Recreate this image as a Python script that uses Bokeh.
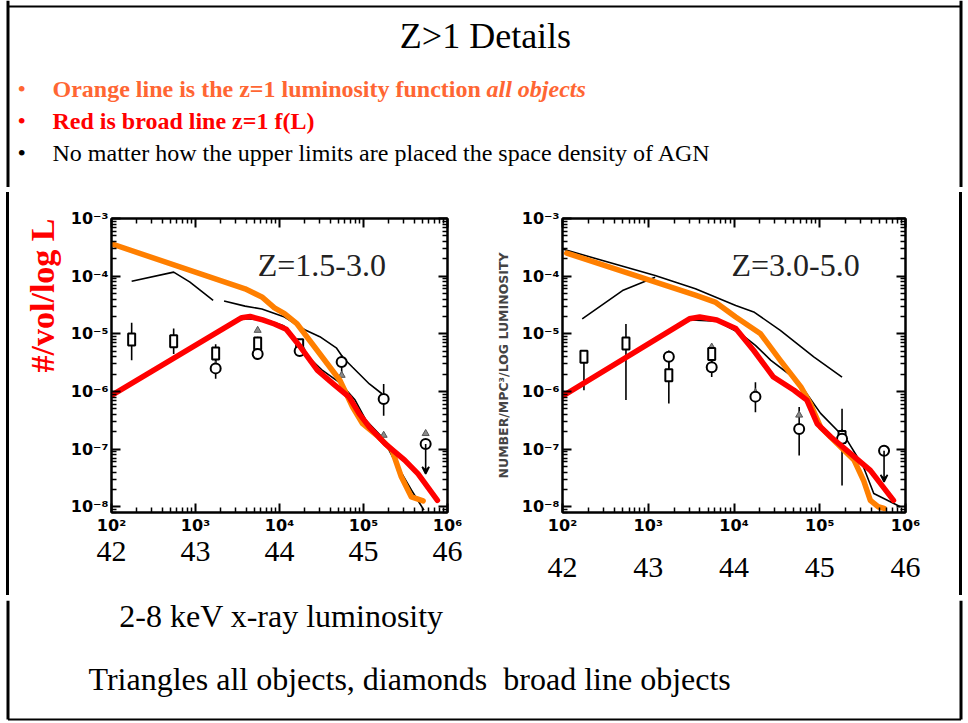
from bokeh.plotting import figure
from bokeh.layouts import column, row
from bokeh.models import (Range1d, FixedTicker, LogAxis, CustomJSTickFormatter,
                          Label, Title, ColumnDataSource, Arrow, VeeHead, Spacer, Div)
from bokeh.core.properties import value
from bokeh.embed import file_html
from bokeh.resources import INLINE

SERIF = "Liberation Serif"
TICKFONT = "DejaVu Sans"

# ---------------------------------------------------------------------------
# Data: log10 L (units of 1e40 erg/s) and log10 space density per Mpc^3 per log L
# ---------------------------------------------------------------------------
# Z = 1.5-3.0 panel
lo_orange_logL = [2.00, 3.59, 3.79, 3.94, 4.06, 4.21, 4.45, 4.72, 4.87, 4.99, 5.18, 5.34, 5.45, 5.57, 5.71]
lo_orange_logphi = [-3.44, -4.22, -4.36, -4.55, -4.65, -4.83, -5.29, -5.81, -6.27, -6.56, -6.79, -7.02, -7.48, -7.83, -7.90]
lo_red_logL = [2.00, 3.55, 3.65, 3.80, 3.94, 4.08, 4.25, 4.45, 4.64, 4.83, 4.95, 5.07, 5.26, 5.49, 5.65, 5.88]
lo_red_logphi = [-6.07, -4.72, -4.70, -4.76, -4.83, -4.92, -5.23, -5.63, -5.87, -6.10, -6.39, -6.62, -6.91, -7.19, -7.43, -7.89]
lo_all1_logL = [2.24, 2.74, 2.93, 3.21]
lo_all1_logphi = [-4.09, -3.93, -4.10, -4.42]
lo_all2_logL = [3.34, 3.59, 3.79, 4.06, 4.30, 4.48, 4.68, 4.76, 4.87, 5.07, 5.22]
lo_all2_logphi = [-4.43, -4.52, -4.57, -4.71, -4.93, -5.05, -5.25, -5.42, -5.58, -5.87, -6.04]
lo_broad_logL = [3.45, 3.60, 3.85, 4.05, 4.20, 4.33, 4.50, 4.72, 4.90, 5.03, 5.22, 5.41, 5.57, 5.72]
lo_broad_logphi = [-4.78, -4.74, -4.76, -4.86, -5.10, -5.38, -5.62, -5.85, -6.15, -6.50, -6.79, -7.31, -7.71, -8.06]

lo_sq_logL = [2.24, 2.74, 3.24, 3.74, 4.24]
lo_sq_logphi = [-5.10, -5.13, -5.34, -5.17, -5.20]
lo_sq_lo = [-5.46, -5.35, -5.50, -5.30, -5.30]
lo_sq_hi = [-4.81, -4.91, -5.18, -5.05, -5.12]
lo_dm_logL = [3.24, 3.74, 4.24, 4.74, 5.24]
lo_dm_logphi = [-5.60, -5.35, -5.30, -5.49, -6.13]
lo_dm_lo = [-5.78, -5.45, -5.37, -5.75, -6.42]
lo_dm_hi = [-5.45, -5.20, -5.20, -5.37, -5.87]
lo_tri_logL = [3.24, 3.74, 4.24, 4.74, 5.24, 5.74]
lo_tri_logphi = [-5.55, -4.94, -5.20, -5.72, -6.76, -6.73]
lo_ul_logL = [5.74]
lo_ul_logphi = [-6.91]
lo_ul_end = [-7.43]

# Z = 3.0-5.0 panel
hi_orange_logL = [2.05, 3.55, 3.78, 4.02, 4.31, 4.54, 4.78, 4.89, 5.01, 5.20, 5.40, 5.51, 5.59, 5.68, 5.75]
hi_orange_logphi = [-3.60, -4.33, -4.45, -4.71, -5.00, -5.46, -5.92, -6.21, -6.62, -6.90, -7.19, -7.54, -7.89, -8.00, -8.03]
hi_red_logL = [1.98, 3.48, 3.60, 3.80, 4.02, 4.23, 4.46, 4.70, 4.85, 4.97, 5.13, 5.36, 5.59, 5.86]
hi_red_logphi = [-6.10, -4.74, -4.71, -4.76, -4.91, -5.29, -5.75, -5.98, -6.15, -6.56, -6.79, -7.08, -7.37, -7.89]
hi_all1_logL = [2.00, 3.08, 3.55, 4.02, 4.23, 4.54, 4.93, 5.26]
hi_all1_logphi = [-3.53, -3.99, -4.22, -4.51, -4.62, -4.94, -5.40, -5.75]
hi_all2_logL = [2.23, 2.70, 3.08]
hi_all2_logphi = [-4.74, -4.25, -4.02]
hi_broad_logL = [3.50, 3.80, 4.08, 4.25, 4.43, 4.74, 5.01, 5.32, 5.51, 5.63, 5.94]
hi_broad_logphi = [-4.76, -4.78, -5.00, -5.20, -5.46, -5.81, -6.38, -6.85, -7.31, -7.77, -8.00]

hi_sq_logL = [2.25, 2.74, 3.24, 3.74, 5.26]
hi_sq_logphi = [-5.40, -5.17, -5.72, -5.35, -6.79]
hi_sq_lo = [-5.98, -6.15, -6.21, -5.60, -7.63]
hi_sq_hi = [-5.40, -4.83, -5.29, -5.20, -6.30]
hi_dm_logL = [3.24, 3.74, 4.25, 4.76, 5.26]
hi_dm_logphi = [-5.40, -5.58, -6.09, -6.65, -6.82]
hi_dm_lo = [-5.60, -5.75, -6.36, -7.11, -6.95]
hi_dm_hi = [-5.30, -5.40, -5.84, -6.27, -6.65]
hi_tri_logL = [2.74, 3.74, 4.25, 4.76, 5.26]
hi_tri_logphi = [-5.15, -5.23, -6.02, -6.41, -6.75]
hi_ul_logL = [5.75]
hi_ul_logphi = [-7.03]
hi_ul_end = [-7.57]

# axis decades
x_decades = [2, 3, 4, 5, 6]
y_decades = [-8, -7, -6, -5, -4, -3]

ORANGE_TXT = "#ff6633"
ORANGE_LINE = "#ff7f00"
RED = "#ff0000"
PURPLE = "#800080"


def pw(v):
    return [10.0 ** a for a in v]


SUP_JS = """
const sup = {"-":"\u207b","0":"\u2070","1":"\u00b9","2":"\u00b2","3":"\u00b3","4":"\u2074",
             "5":"\u2075","6":"\u2076","7":"\u2077","8":"\u2078","9":"\u2079"};
const e = Math.round(Math.log10(tick));
return "10" + String(e).split("").map(c => sup[c]).join("");
"""
ERG_JS = "return String(40 + Math.round(Math.log10(tick)));"


def tickers():
    xt = FixedTicker(ticks=[10.0 ** d for d in x_decades],
                     minor_ticks=[k * 10.0 ** d for d in x_decades[:-1] for k in range(2, 10)])
    yt = FixedTicker(ticks=[10.0 ** d for d in y_decades],
                     minor_ticks=[k * 10.0 ** d for d in [-9] + y_decades[:-1] for k in range(2, 10)])
    return xt, yt


def style_axis(ax, show_labels):
    ax.axis_line_width = 2
    ax.axis_line_color = "black"
    ax.major_tick_in = 9
    ax.major_tick_out = 0
    ax.minor_tick_in = 5
    ax.minor_tick_out = 0
    ax.major_tick_line_width = 2
    ax.minor_tick_line_width = 1.5
    ax.major_label_text_font = TICKFONT
    ax.major_label_text_font_size = "16px"
    ax.major_label_text_font_style = "bold"
    ax.major_label_text_color = "black" if show_labels else None
    ax.major_label_standoff = 3


def blank(w, h):
    p = figure(width=w, height=h, x_range=Range1d(0, w), y_range=Range1d(h, 0),
               x_axis_type=None, y_axis_type=None, output_backend="svg",
               toolbar_location=None, min_border=0)
    p.outline_line_color = None
    p.xgrid.visible = False
    p.ygrid.visible = False
    return p


def panel(width, bl, br, d, zlabel, zlabel_logL, erg_standoff):
    p = figure(width=width, height=403, x_axis_type="log", y_axis_type="log",
               x_range=Range1d(1e2, 1e6), y_range=Range1d(10 ** -8.1, 1e-3),
               output_backend="svg", toolbar_location=None,
               min_border_left=bl, min_border_right=br, min_border_top=31,
               min_border_bottom=78)
    p.xgrid.visible = False
    p.ygrid.visible = False
    p.outline_line_color = "black"
    p.outline_line_width = 2

    xt, yt = tickers()
    fmt = CustomJSTickFormatter(code=SUP_JS)
    p.xaxis.ticker = xt
    p.xaxis.formatter = fmt
    p.yaxis.ticker = yt
    p.yaxis.formatter = fmt
    style_axis(p.xaxis[0], True)
    style_axis(p.yaxis[0], True)

    top = LogAxis(ticker=tickers()[0], formatter=CustomJSTickFormatter(code=SUP_JS))
    style_axis(top, False)
    p.add_layout(top, "above")
    right = LogAxis(ticker=tickers()[1], formatter=CustomJSTickFormatter(code=SUP_JS))
    style_axis(right, False)
    p.add_layout(right, "right")

    # log L in erg/s written under the decades
    erg = LogAxis(ticker=FixedTicker(ticks=[10.0 ** v for v in x_decades]),
                  formatter=CustomJSTickFormatter(code=ERG_JS))
    erg.axis_line_color = None
    erg.major_tick_in = 0
    erg.major_tick_out = 0
    erg.minor_tick_in = 0
    erg.minor_tick_out = 0
    erg.major_label_text_font = SERIF
    erg.major_label_text_font_size = "30px"
    erg.major_label_text_color = "black"
    erg.major_label_standoff = erg_standoff
    p.add_layout(erg, "below")

    # model curves (thin black)
    p.multi_line(xs=[pw(d["all1_logL"]), pw(d["all2_logL"]), pw(d["broad_logL"])],
                 ys=[pw(d["all1_logphi"]), pw(d["all2_logphi"]), pw(d["broad_logphi"])],
                 line_color="black", line_width=1.6)

    # error bars
    p.segment(x0=pw(d["sq_logL"]), y0=pw(d["sq_lo"]), x1=pw(d["sq_logL"]), y1=pw(d["sq_hi"]),
              line_color="black", line_width=1.6)
    p.segment(x0=pw(d["dm_logL"]), y0=pw(d["dm_lo"]), x1=pw(d["dm_logL"]), y1=pw(d["dm_hi"]),
              line_color="black", line_width=1.6)
    # upper limits
    ul = ColumnDataSource(dict(x=pw(d["ul_logL"]), y0=pw(d["ul_logphi"]), y1=pw(d["ul_end"])))
    p.add_layout(Arrow(end=VeeHead(size=7, line_color="black", line_width=1.6),
                       source=ul, x_start="x", y_start="y0", x_end="x", y_end="y1",
                       line_color="black", line_width=1.6))

    # triangles: all objects
    p.scatter(pw(d["tri_logL"]), pw(d["tri_logphi"]), marker="triangle", size=7,
              fill_color="#8a8a8a", line_color="#555555", line_width=1)
    # squares
    p.rect(pw(d["sq_logL"]), pw(d["sq_logphi"]), width=7, height=12,
           width_units="screen", height_units="screen",
           fill_color="white", line_color="black", line_width=2)
    # broad-line objects
    p.scatter(pw(d["dm_logL"] + d["ul_logL"]), pw(d["dm_logphi"] + d["ul_logphi"]),
              marker="circle", size=10, fill_color="white", line_color="black", line_width=2)

    # z=1 luminosity functions
    p.line(pw(d["orange_logL"]), pw(d["orange_logphi"]), line_color=ORANGE_LINE,
           line_width=5.5, line_join="round", line_cap="round")
    p.line(pw(d["red_logL"]), pw(d["red_logphi"]), line_color=RED,
           line_width=5.5, line_join="round", line_cap="round")

    p.add_layout(Label(x=10 ** zlabel_logL, y=10 ** -3.81, text=zlabel,
                       text_font=SERIF, text_font_size="32px", text_color="#222222",
                       text_baseline="middle", text_align="left"))
    return p


lo = dict(orange_logL=lo_orange_logL, orange_logphi=lo_orange_logphi,
          red_logL=lo_red_logL, red_logphi=lo_red_logphi,
          all1_logL=lo_all1_logL, all1_logphi=lo_all1_logphi,
          all2_logL=lo_all2_logL, all2_logphi=lo_all2_logphi,
          broad_logL=lo_broad_logL, broad_logphi=lo_broad_logphi,
          sq_logL=lo_sq_logL, sq_logphi=lo_sq_logphi, sq_lo=lo_sq_lo, sq_hi=lo_sq_hi,
          dm_logL=lo_dm_logL, dm_logphi=lo_dm_logphi, dm_lo=lo_dm_lo, dm_hi=lo_dm_hi,
          tri_logL=lo_tri_logL, tri_logphi=lo_tri_logphi,
          ul_logL=lo_ul_logL, ul_logphi=lo_ul_logphi, ul_end=lo_ul_end)
hi = dict(orange_logL=hi_orange_logL, orange_logphi=hi_orange_logphi,
          red_logL=hi_red_logL, red_logphi=hi_red_logphi,
          all1_logL=hi_all1_logL, all1_logphi=hi_all1_logphi,
          all2_logL=hi_all2_logL, all2_logphi=hi_all2_logphi,
          broad_logL=hi_broad_logL, broad_logphi=hi_broad_logphi,
          sq_logL=hi_sq_logL, sq_logphi=hi_sq_logphi, sq_lo=hi_sq_lo, sq_hi=hi_sq_hi,
          dm_logL=hi_dm_logL, dm_logphi=hi_dm_logphi, dm_lo=hi_dm_lo, dm_hi=hi_dm_hi,
          tri_logL=hi_tri_logL, tri_logphi=hi_tri_logphi,
          ul_logL=hi_ul_logL, ul_logphi=hi_ul_logphi, ul_end=hi_ul_end)

# left panel spans x = 14..484 of the slide
left = panel(470, 89, 37, lo, "Z=1.5-3.0", 3.74, 4)
left.add_layout(Title(text="#/vol/log L", align="right", text_color=RED,
                      text_font=SERIF, text_font_size="34px", text_font_style="bold",
                      standoff=14), "left")

# right panel spans x = 484..954
right = panel(470, 78, 49, hi, "Z=3.0-5.0", 3.97, 20)
right.yaxis[0].axis_label = "NUMBER/MPC\u00b3/LOG LUMINOSITY"
right.yaxis[0].axis_label_text_font = TICKFONT
right.yaxis[0].axis_label_text_font_size = "12.5px"
right.yaxis[0].axis_label_text_font_style = "bold"
right.yaxis[0].axis_label_standoff = 8

# slide frame: x positions of its two vertical sides
FRAME_L = 7.5
FRAME_R = 960.5

# ---------------------------------------------------------------------------
# slide header
# ---------------------------------------------------------------------------
W = 968
header = blank(W, 187)
header.segment(x0=[FRAME_L, FRAME_R, FRAME_L], y0=[0, 0, 6],
               x1=[FRAME_L, FRAME_R, FRAME_R], y1=[187, 187, 6],
               line_color="black", line_width=[3, 3, 2])
header.text(x=[485], y=[35], text=["Z>1 Details"], text_font=value(SERIF),
            text_font_size="36px", text_align="center", text_baseline="middle")
header.text(x=[17, 17, 17], y=[88, 120, 152], text=["\u2022"] * 3,
            text_color=[ORANGE_TXT, RED, "black"], text_font=value(SERIF),
            text_font_size="24px", text_baseline="middle")
header.text(x=[52], y=[88], text=["Orange line is the z=1 luminosity function "],
            text_color=ORANGE_TXT, text_font=value(SERIF), text_font_size="24px",
            text_font_style="bold", text_baseline="middle")
header.text(x=[486], y=[88], text=["all objects"],
            text_color=ORANGE_TXT, text_font=value(SERIF), text_font_size="24px",
            text_font_style="bold italic", text_baseline="middle")
header.text(x=[52], y=[120], text=["Red is broad line z=1 f(L)"],
            text_color=RED, text_font=value(SERIF), text_font_size="24px",
            text_font_style="bold", text_baseline="middle")
header.text(x=[52], y=[152],
            text=["No matter how the upper limits are placed the space density of AGN"],
            text_color="black", text_font=value(SERIF), text_font_size="24px",
            text_baseline="middle")
# next bullet line, mostly hidden behind the figures
header.text(x=[378], y=[196], text=["declines at z > 1.5"],
            text_color=PURPLE, text_font=value(SERIF), text_font_size="28px",
            text_font_style="bold", text_baseline="alphabetic")


def edge():
    # the slide frame continuing down the sides of the two panels
    # (the Div keeps its default 5px margin on every side)
    return Div(width=3, height=403,
               text='<div style="width:3px;height:403px;background:#000;"></div>')


# row height = 403 + 2*5 margin of the edge Divs -> spans y = 187..600
middle = row(Spacer(width=1, height=403), edge(), left, right, edge(),
             Spacer(width=1, height=403))

# ---------------------------------------------------------------------------
# slide footer (y = 600..723)
# ---------------------------------------------------------------------------
footer = blank(W, 123)
footer.segment(x0=[FRAME_L, FRAME_R, FRAME_L], y0=[0, 0, 119],
               x1=[FRAME_L, FRAME_R, FRAME_R], y1=[119, 119, 119],
               line_color="black", line_width=[3, 3, 2])
footer.text(x=[281], y=[15], text=["2-8 keV x-ray luminosity"], text_font=value(SERIF),
            text_font_size="32px", text_align="center", text_baseline="middle")
footer.text(x=[88], y=[78], text=["Triangles all objects, diamonds\u00a0 broad line objects"],
            text_font=value(SERIF), text_font_size="32px", text_baseline="middle")

page = column(header, middle, footer)
open("out.html", "w").write(file_html(page, INLINE))
